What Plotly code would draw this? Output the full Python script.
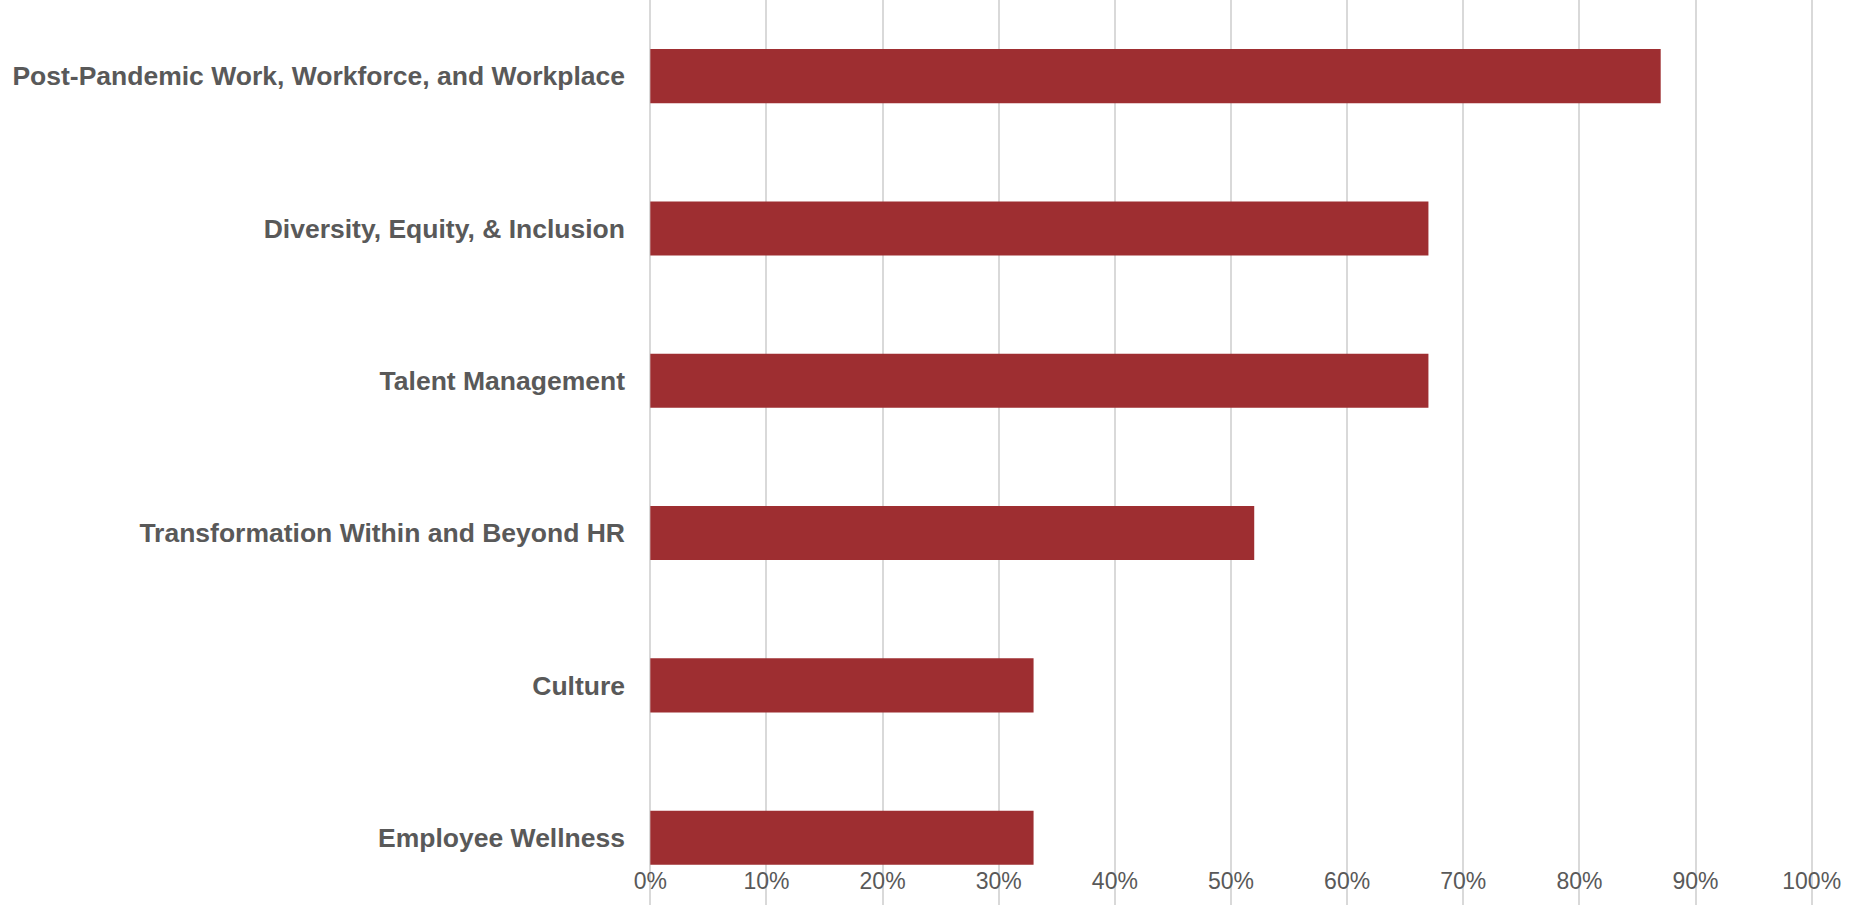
import plotly.graph_objects as go

categories = [
    "Post-Pandemic Work, Workforce, and Workplace",
    "Diversity, Equity, & Inclusion",
    "Talent Management",
    "Transformation Within and Beyond HR",
    "Culture",
    "Employee Wellness",
]
values = [0.87, 0.67, 0.67, 0.52, 0.33, 0.33]
x_ticks = [i / 10 for i in range(11)]
x_tick_labels = [f"{i*10}%" for i in range(11)]

FONT = "Liberation Sans, Arial, sans-serif"

fig = go.Figure(
    go.Bar(
        x=values,
        y=categories,
        orientation="h",
        marker=dict(color="#9E2E31", line=dict(width=0)),
        width=0.355,
        hoverinfo="x+y",
    )
)

fig.update_layout(
    width=1850,
    height=905,
    margin=dict(l=648, r=36, t=0, b=0),
    paper_bgcolor="white",
    plot_bgcolor="white",
    showlegend=False,
)

fig.update_xaxes(
    range=[-0.002, 1.002],
    tickvals=x_ticks,
    ticktext=x_tick_labels,
    showgrid=True,
    gridcolor="#D9D9D9",
    gridwidth=1.5,
    zeroline=False,
    showline=False,
    ticks="",
    ticklabelposition="inside",
    ticklabeloverflow="allow",
    ticklabelstandoff=8,
    tickfont=dict(family=FONT, size=23, color="#595959"),
)

fig.update_yaxes(
    categoryorder="array",
    categoryarray=categories,
    range=[5.442, -0.5],
    showgrid=False,
    zeroline=False,
    showline=False,
    ticks="",
    ticklabelstandoff=22,
    tickfont=dict(family=FONT, size=26.5, color="#595959", weight="bold"),
)

fig.write_html("out.html")
